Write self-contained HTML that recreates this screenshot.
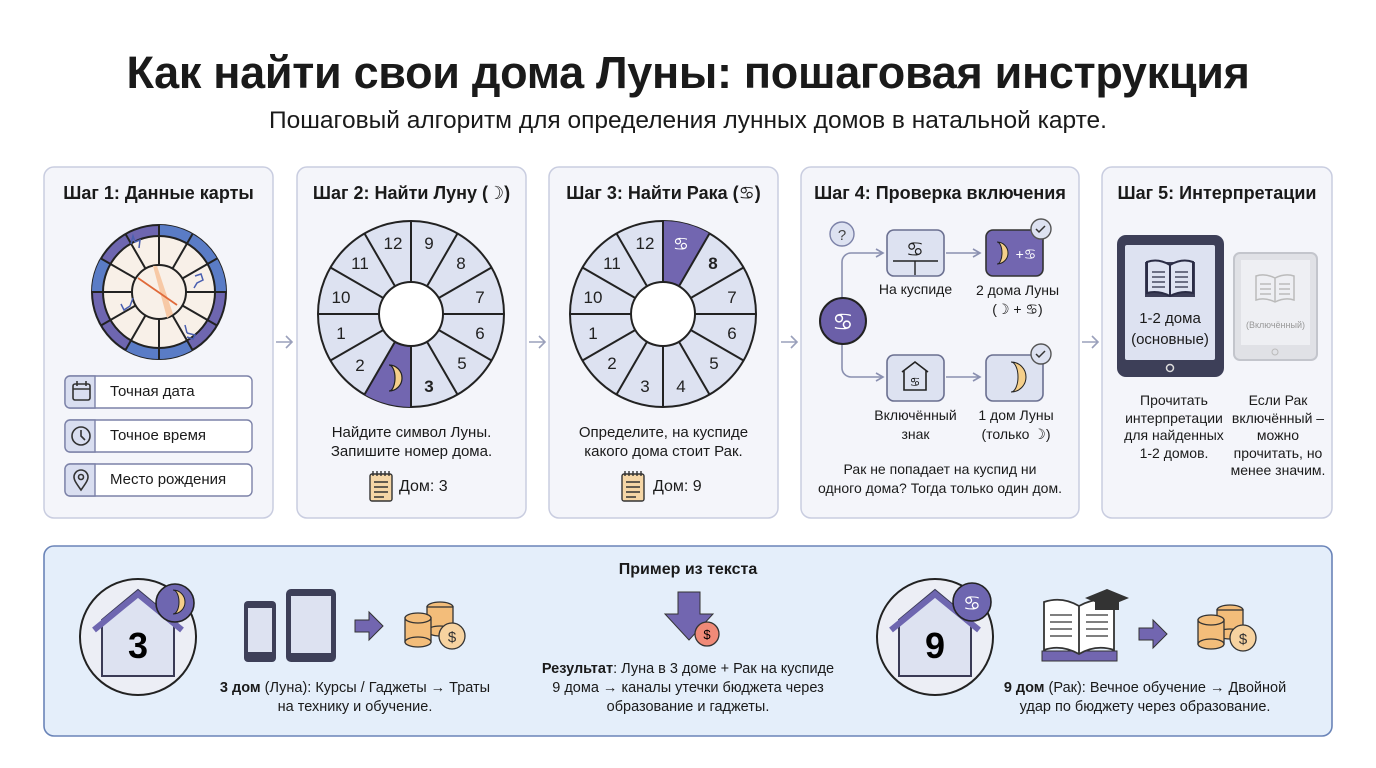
<!DOCTYPE html>
<html><head><meta charset="utf-8">
<style>
body{margin:0;width:1376px;height:768px;background:#fff;font-family:"Liberation Sans","DejaVu Sans",sans-serif;overflow:hidden;position:relative;color:#1a1a1a}
.t{position:absolute;white-space:nowrap}
.c{text-align:center}
</style></head><body>
<svg width="1376" height="768" style="position:absolute;left:0;top:0" font-family="Liberation Sans, DejaVu Sans, sans-serif">
<defs>
<marker id="ar" markerWidth="10" markerHeight="10" refX="8" refY="5" orient="auto" markerUnits="userSpaceOnUse"><path d="M1,1 L8,5 L1,9" fill="none" stroke="#8a90b0" stroke-width="1.6"/></marker>
</defs>
<g fill="#f4f5fa" stroke="#c9cde0" stroke-width="1.5">
<rect x="44" y="167" width="229" height="351" rx="10"/>
<rect x="297" y="167" width="229" height="351" rx="10"/>
<rect x="549" y="167" width="229" height="351" rx="10"/>
<rect x="801" y="167" width="278" height="351" rx="10"/>
<rect x="1102" y="167" width="230" height="351" rx="10"/>
</g>
<rect x="44" y="546" width="1288" height="190" rx="10" fill="#e4eefa" stroke="#6a84b8" stroke-width="1.6"/>
<g stroke="#9aa0bb" stroke-width="1.6" fill="none">
<path d="M276,342 H292 M286,336 L292,342 L286,348"/>
<path d="M529,342 H545 M539,336 L545,342 L539,348"/>
<path d="M781,342 H797 M791,336 L797,342 L791,348"/>
<path d="M1082,342 H1098 M1092,336 L1098,342 L1092,348"/>
</g>

<!-- step1 chart -->
<g transform="translate(159,292)">
<circle r="67" fill="#6e66b0" stroke="#222" stroke-width="2"/>
<path d="M0,-67 A67,67 0 0 1 33.5,-58 L28,-48.5 A56,56 0 0 0 0,-56Z M58,-33.5 A67,67 0 0 1 67,0 L56,0 A56 56 0 0 0 48.5,-28Z M0,67 A67 67 0 0 1 -33.5,58 L-28,48.5 A56 56 0 0 0 0,56Z M-67,0 A67 67 0 0 1 -58,-33.5 L-48.5,-28 A56 56 0 0 0 -56,0Z M33.5,58 A67 67 0 0 1 0,67 L0,56 A56 56 0 0 0 28,48.5Z M33.5,-58 A67 67 0 0 1 58,-33.5 L48.5,-28 A56 56 0 0 0 28,-48.5Z" fill="#5a7cc6"/>
<circle r="56" fill="#f8f0e8" stroke="#222" stroke-width="2"/>
<g stroke="#222" stroke-width="2">
<line x1="0" y1="-27" x2="0" y2="-67"/><line x1="0" y1="-27" x2="0" y2="-67" transform="rotate(30)"/><line x1="0" y1="-27" x2="0" y2="-67" transform="rotate(60)"/><line x1="0" y1="-27" x2="0" y2="-67" transform="rotate(90)"/><line x1="0" y1="-27" x2="0" y2="-67" transform="rotate(120)"/><line x1="0" y1="-27" x2="0" y2="-67" transform="rotate(150)"/><line x1="0" y1="-27" x2="0" y2="-67" transform="rotate(180)"/><line x1="0" y1="-27" x2="0" y2="-67" transform="rotate(210)"/><line x1="0" y1="-27" x2="0" y2="-67" transform="rotate(240)"/><line x1="0" y1="-27" x2="0" y2="-67" transform="rotate(270)"/><line x1="0" y1="-27" x2="0" y2="-67" transform="rotate(300)"/><line x1="0" y1="-27" x2="0" y2="-67" transform="rotate(330)"/>
</g>
<circle r="27" fill="#f8f0e8" stroke="#222" stroke-width="2"/>
<path d="M-6,-26 L-2,-26 L14,22 L8,26Z" fill="#f7c9a6"/>
<line x1="-21" y1="-14" x2="18" y2="13" stroke="#e06a3a" stroke-width="1.8"/>
<g stroke="#4a5fb0" stroke-width="1.5" fill="none">
<path d="M-28,-48 l2,-8 l2,6 l5,-2 l-1,8"/><path d="M36,-16 l6,-2 l2,6 l-6,3 l-3,5"/><path d="M-38,12 l3,6 l6,-4 l3,-8"/><path d="M28,41 l-2,-8 m2,8 l8,2 l-2,4 l-6,-2"/>
</g>
</g>
<g stroke="#7c82a8" stroke-width="1.4">
<rect x="65" y="376" width="187" height="32" rx="5" fill="#fff"/>
<rect x="65" y="420" width="187" height="32" rx="5" fill="#fff"/>
<rect x="65" y="464" width="187" height="32" rx="5" fill="#fff"/>
<path d="M70,376 h25 v32 h-25 a5 5 0 0 1 -5 -5 v-22 a5 5 0 0 1 5 -5Z M70,420 h25 v32 h-25 a5 5 0 0 1 -5 -5 v-22 a5 5 0 0 1 5 -5Z M70,464 h25 v32 h-25 a5 5 0 0 1 -5 -5 v-22 a5 5 0 0 1 5 -5Z" fill="#d9def0"/>
</g>
<g stroke="#333" stroke-width="1.6" fill="none">
<rect x="73" y="384" width="17" height="16" rx="2"/><line x1="73" y1="389" x2="90" y2="389"/><line x1="77" y1="381" x2="77" y2="386"/><line x1="86" y1="381" x2="86" y2="386"/>
<circle cx="81" cy="436" r="9"/><path d="M81,430 v6 l4,4"/>
<path d="M81,490 c-5,-7 -7,-10 -7,-13 a7 7 0 0 1 14 0 c0,3 -2,6 -7,13Z"/><circle cx="81" cy="477" r="2.5"/>
</g>

<!-- step2 wheel -->
<g transform="translate(411,314)">
<circle r="93" fill="#dde2f1" stroke="#222" stroke-width="2"/>
<path d="M0,93 A93,93 0 0 1 -46.5,80.5 L-16,27.7 A32,32 0 0 0 0,32Z" fill="#7266b0"/>
<g stroke="#222" stroke-width="2">
<line y1="-32" y2="-93"/><line y1="-32" y2="-93" transform="rotate(30)"/><line y1="-32" y2="-93" transform="rotate(60)"/><line y1="-32" y2="-93" transform="rotate(90)"/><line y1="-32" y2="-93" transform="rotate(120)"/><line y1="-32" y2="-93" transform="rotate(150)"/><line y1="-32" y2="-93" transform="rotate(180)"/><line y1="-32" y2="-93" transform="rotate(210)"/><line y1="-32" y2="-93" transform="rotate(240)"/><line y1="-32" y2="-93" transform="rotate(270)"/><line y1="-32" y2="-93" transform="rotate(300)"/><line y1="-32" y2="-93" transform="rotate(330)"/>
</g>
<circle r="32" fill="#fff" stroke="#222" stroke-width="2"/>
<g font-size="17" text-anchor="middle" fill="#222">
<text x="18" y="-65">9</text><text x="50" y="-45">8</text><text x="69" y="-11">7</text><text x="69" y="25">6</text><text x="51" y="55">5</text><text x="18" y="78" font-weight="bold">3</text><text x="-51" y="57">2</text><text x="-70" y="25">1</text><text x="-70" y="-11">10</text><text x="-51" y="-45">11</text><text x="-18" y="-65">12</text>
</g>
<path d="M-22,51 A13,13 0 0 1 -22,77 A6,13 0 0 0 -22,51Z" fill="#f5cf8a" stroke="#222" stroke-width="1.2"/>
</g>

<!-- step3 wheel -->
<g transform="translate(663,314)">
<circle r="93" fill="#dde2f1" stroke="#222" stroke-width="2"/>
<path d="M0,-93 A93 93 0 0 1 46.5,-80.5 L16,-27.7 A32 32 0 0 0 0,-32Z" fill="#7266b0"/>
<g stroke="#222" stroke-width="2">
<line y1="-32" y2="-93"/><line y1="-32" y2="-93" transform="rotate(30)"/><line y1="-32" y2="-93" transform="rotate(60)"/><line y1="-32" y2="-93" transform="rotate(90)"/><line y1="-32" y2="-93" transform="rotate(120)"/><line y1="-32" y2="-93" transform="rotate(150)"/><line y1="-32" y2="-93" transform="rotate(180)"/><line y1="-32" y2="-93" transform="rotate(210)"/><line y1="-32" y2="-93" transform="rotate(240)"/><line y1="-32" y2="-93" transform="rotate(270)"/><line y1="-32" y2="-93" transform="rotate(300)"/><line y1="-32" y2="-93" transform="rotate(330)"/>
</g>
<circle r="32" fill="#fff" stroke="#222" stroke-width="2"/>
<g font-size="17" text-anchor="middle" fill="#222">
<text x="18" y="-64" fill="#fff" font-size="18">♋</text><text x="50" y="-45" font-weight="bold">8</text><text x="69" y="-11">7</text><text x="69" y="25">6</text><text x="51" y="55">5</text><text x="18" y="78">4</text><text x="-18" y="78">3</text><text x="-51" y="55">2</text><text x="-70" y="25">1</text><text x="-70" y="-11">10</text><text x="-51" y="-45">11</text><text x="-18" y="-65">12</text>
</g>
</g>

<g stroke="#333" stroke-width="1.4">
<rect x="370" y="474" width="22" height="27" rx="2" fill="#f5d6a6"/>
<rect x="622" y="474" width="22" height="27" rx="2" fill="#f5d6a6"/>
<path d="M374,482h14M374,487h14M374,492h14M374,497h10M626,482h14M626,487h14M626,492h14M626,497h10M373,471v5M377,471v5M381,471v5M385,471v5M389,471v5M625,471v5M629,471v5M633,471v5M637,471v5M641,471v5" fill="none"/>
</g>

<!-- step4 -->
<circle cx="842" cy="234" r="12" fill="#dde2f1" stroke="#7c82a8" stroke-width="1.4"/>
<text x="842" y="240" font-size="15" text-anchor="middle" fill="#444">?</text>
<g stroke="#8a90b0" stroke-width="1.6" fill="none">
<path d="M842,300 V262 a9 9 0 0 1 9 -9 H883" marker-end="url(#ar)"/>
<path d="M842,342 V368 a9 9 0 0 0 9 9 H883" marker-end="url(#ar)"/>
<path d="M946,253 H980" marker-end="url(#ar)"/>
<path d="M946,377 H980" marker-end="url(#ar)"/>
</g>
<circle cx="843" cy="321" r="23" fill="#6b5fa8" stroke="#222" stroke-width="2"/>
<text x="843" y="330" font-size="24" text-anchor="middle" fill="#fff">♋</text>
<rect x="887" y="230" width="57" height="46" rx="7" fill="#dde2f1" stroke="#6a6f90" stroke-width="1.6"/>
<text x="915" y="256" font-size="20" text-anchor="middle" fill="#222">♋</text>
<path d="M893,261 H938 M915,261 V275" stroke="#222" stroke-width="1.4"/>
<rect x="986" y="230" width="57" height="46" rx="7" fill="#7266b0" stroke="#333" stroke-width="1.6"/>
<path d="M997,242 A11,11 0 0 1 997,264 A5,11 0 0 0 997,242Z" fill="#f5cf8a" stroke="#222"/>
<text x="1026" y="259" font-size="14" text-anchor="middle" fill="#fff">+♋</text>
<circle cx="1041" cy="229" r="10" fill="#dde2f1" stroke="#555" stroke-width="1.4"/>
<path d="M1036,229 l3,3 l6,-6" stroke="#333" stroke-width="1.5" fill="none"/>
<rect x="887" y="355" width="57" height="46" rx="7" fill="#dde2f1" stroke="#6a6f90" stroke-width="1.6"/>
<path d="M902,372 L915,362 L928,372 M904,370 V390 H926 V370" fill="none" stroke="#222" stroke-width="1.6"/>
<text x="915" y="386" font-size="12" text-anchor="middle">♋</text>
<rect x="986" y="355" width="57" height="46" rx="7" fill="#dde2f1" stroke="#6a6f90" stroke-width="1.6"/>
<path d="M1011,362 A15,15 0 0 1 1011,392 A7,15 0 0 0 1011,362Z" fill="#f5cf8a" stroke="#222"/>
<circle cx="1041" cy="354" r="10" fill="#dde2f1" stroke="#555" stroke-width="1.4"/>
<path d="M1036,354 l3,3 l6,-6" stroke="#333" stroke-width="1.5" fill="none"/>

<!-- step5 tablets -->
<rect x="1117" y="235" width="107" height="142" rx="9" fill="#3d3f58"/>
<rect x="1125" y="245" width="90" height="115" rx="2" fill="#dde2f1"/>
<circle cx="1170" cy="368" r="3.5" fill="none" stroke="#ddd" stroke-width="1.5"/>
<rect x="1145" y="262" width="50" height="35" fill="#3d3f58"/>
<g stroke="#2a2c45" stroke-width="2" fill="#dde2f1"><path d="M1147,262 q11,-4 23,3 q12,-7 23,-3 v31 q-11,-3 -23,3 q-12,-6 -23,-3Z M1170,265 v31"/></g>
<path d="M1152,272h13M1152,277h13M1152,282h13M1152,287h13M1175,272h13M1175,277h13M1175,282h13M1175,287h13" stroke="#2a2c45" stroke-width="1.3"/>
<rect x="1234" y="253" width="83" height="107" rx="6" fill="#e0e1e6" stroke="#c3c5cc" stroke-width="2"/>
<rect x="1241" y="260" width="69" height="85" fill="#eeeff3"/>
<circle cx="1275" cy="352" r="3" fill="none" stroke="#bbb"/>
<path d="M1256,276 q9,-3 19,2 q10,-5 19,-2 v24 q-9,-3 -19,2 q-10,-5 -19,-2Z M1275,278 v24 M1260,284h11M1260,289h11M1260,294h11M1279,284h11M1279,289h11M1279,294h11" fill="none" stroke="#bbb" stroke-width="1.5"/>

<!-- bottom -->
<circle cx="138" cy="637" r="58" fill="#eceef5" stroke="#222" stroke-width="2"/>
<path d="M102,620 V676 H174 V620 L138,590Z" fill="#dde2f1" stroke="#3a3a55" stroke-width="2"/>
<path d="M94,630 L138,594 L182,630" fill="none" stroke="#6e66b0" stroke-width="6" stroke-linejoin="miter"/>
<text x="138" y="658" font-size="36" font-weight="bold" text-anchor="middle">3</text>
<circle cx="175" cy="603" r="19" fill="#6e66b0" stroke="#222" stroke-width="1.6"/>
<path d="M173,590 A12,12 0 0 1 173,614 A6,12 0 0 0 173,590Z" fill="#f5cf8a" stroke="#222"/>
<rect x="244" y="601" width="32" height="61" rx="4" fill="#3d3f58"/><rect x="248" y="608" width="24" height="44" fill="#dde2f1"/>
<rect x="286" y="589" width="50" height="73" rx="5" fill="#3d3f58"/><rect x="291" y="596" width="40" height="57" fill="#dde2f1"/>
<path d="M355,620 h14 v-8 l14,14 l-14,14 v-8 h-14Z" fill="#7266b0" stroke="#333" stroke-width="1"/>
<g stroke="#333" stroke-width="1.3" fill="#f3bd7a">
<ellipse cx="440" cy="607" rx="13" ry="5"/><rect x="427" y="607" width="26" height="24"/><ellipse cx="440" cy="631" rx="13" ry="5"/>
<rect x="405" y="618" width="26" height="24"/><ellipse cx="418" cy="642" rx="13" ry="5"/><ellipse cx="418" cy="618" rx="13" ry="5"/>
<circle cx="452" cy="636" r="13" fill="#f7d3a0"/>
</g>
<text x="452" y="642" font-size="15" text-anchor="middle" fill="#333">$</text>
<path d="M678,592 h22 v22 h13 l-24,26 l-24,-26 h13Z" fill="#7266b0" stroke="#333" stroke-width="1"/>
<circle cx="707" cy="634" r="12" fill="#f08a78" stroke="#333" stroke-width="1.3"/>
<text x="707" y="639" font-size="13" text-anchor="middle">$</text>
<circle cx="935" cy="637" r="58" fill="#eceef5" stroke="#222" stroke-width="2"/>
<path d="M899,620 V676 H971 V620 L935,590Z" fill="#dde2f1" stroke="#3a3a55" stroke-width="2"/>
<path d="M891,630 L935,594 L979,630" fill="none" stroke="#6e66b0" stroke-width="6"/>
<text x="935" y="658" font-size="36" font-weight="bold" text-anchor="middle">9</text>
<circle cx="972" cy="602" r="19" fill="#6e66b0" stroke="#222" stroke-width="1.6"/>
<text x="972" y="610" font-size="20" text-anchor="middle" fill="#fff">♋</text>
<rect x="1042" y="651" width="75" height="10" fill="#7266b0" stroke="#333"/>
<path d="M1044,602 q18,-6 35,4 q18,-10 35,-4 v48 q-18,-6 -35,4 q-18,-10 -35,-4Z M1079,606 v48" fill="#fff" stroke="#333" stroke-width="1.8"/>
<path d="M1050,615h22M1050,622h22M1050,629h22M1050,636h22M1086,615h22M1086,622h22M1086,629h22M1086,636h22" stroke="#333" stroke-width="1.3"/>
<path d="M1085,598 l22,-9 l22,9 l-22,9Z" fill="#333"/><path d="M1095,602 v8 h24 v-8" fill="#333"/>
<path d="M1139,628 h14 v-8 l14,14 l-14,14 v-8 h-14Z" fill="#7266b0" stroke="#333" stroke-width="1"/>
<g stroke="#333" stroke-width="1.3" fill="#f3bd7a">
<ellipse cx="1230" cy="610" rx="13" ry="5"/><rect x="1217" y="610" width="26" height="24"/><ellipse cx="1230" cy="634" rx="13" ry="5"/>
<rect x="1198" y="620" width="26" height="24"/><ellipse cx="1211" cy="644" rx="13" ry="5"/><ellipse cx="1211" cy="620" rx="13" ry="5"/>
<circle cx="1243" cy="638" r="13" fill="#f7d3a0"/>
</g>
<text x="1243" y="644" font-size="15" text-anchor="middle" fill="#333">$</text>
</svg>

<div class="t c" style="left:0;width:1376px;top:47px;font-size:45px;font-weight:bold;letter-spacing:-0.3px">Как найти свои дома Луны: пошаговая инструкция</div>
<div class="t c" style="left:0;width:1376px;top:107px;font-size:24.5px">Пошаговый алгоритм для определения лунных домов в натальной карте.</div>

<div class="t c" style="left:44px;width:229px;top:183px;font-size:18px;font-weight:bold">Шаг 1: Данные карты</div>
<div class="t c" style="left:297px;width:229px;top:183px;font-size:18px;font-weight:bold">Шаг 2: Найти Луну (☽)</div>
<div class="t c" style="left:549px;width:229px;top:183px;font-size:18px;font-weight:bold">Шаг 3: Найти Рака (♋)</div>
<div class="t c" style="left:801px;width:278px;top:183px;font-size:18px;font-weight:bold">Шаг 4: Проверка включения</div>
<div class="t c" style="left:1102px;width:230px;top:183px;font-size:18px;font-weight:bold">Шаг 5: Интерпретации</div>

<div class="t" style="left:110px;top:383px;font-size:15px">Точная дата</div>
<div class="t" style="left:110px;top:427px;font-size:15px">Точное время</div>
<div class="t" style="left:110px;top:471px;font-size:15px">Место рождения</div>

<div class="t c" style="left:297px;width:229px;top:423px;font-size:15px;line-height:19px">Найдите символ Луны.<br>Запишите номер дома.</div>
<div class="t" style="left:399px;top:478px;font-size:16px">Дом: 3</div>
<div class="t c" style="left:549px;width:229px;top:423px;font-size:15px;line-height:19px">Определите, на куспиде<br>какого дома стоит Рак.</div>
<div class="t" style="left:653px;top:478px;font-size:16px">Дом: 9</div>

<div class="t c" style="left:868px;width:95px;top:281px;font-size:14px">На куспиде</div>
<div class="t c" style="left:970px;width:95px;top:281px;font-size:14px;line-height:19px">2 дома Луны<br>(☽ + ♋)</div>
<div class="t c" style="left:858px;width:115px;top:406px;font-size:14px;line-height:19px">Включённый<br>знак</div>
<div class="t c" style="left:966px;width:100px;top:406px;font-size:14px;line-height:19px">1 дом Луны<br>(только ☽)</div>
<div class="t c" style="left:801px;width:278px;top:460px;font-size:14px;line-height:19px">Рак не попадает на куспид ни<br>одного дома? Тогда только один дом.</div>

<div class="t c" style="left:1125px;width:90px;top:308px;font-size:15px;line-height:21px">1-2 дома<br>(основные)</div>
<div class="t c" style="left:1241px;width:69px;top:320px;font-size:9px;color:#999">(Включённый)</div>
<div class="t c" style="left:1112px;width:124px;top:392px;font-size:14px;line-height:17.5px">Прочитать<br>интерпретации<br>для найденных<br>1-2 домов.</div>
<div class="t c" style="left:1226px;width:104px;top:392px;font-size:14px;line-height:17.5px">Если Рак<br>включённый –<br>можно<br>прочитать, но<br>менее значим.</div>

<div class="t c" style="left:488px;width:400px;top:561px;font-size:16px;font-weight:bold">Пример из текста</div>
<div class="t c" style="left:190px;width:330px;top:679px;font-size:14.5px;line-height:19px"><b>3 дом</b> (Луна): Курсы / Гаджеты → Траты<br>на технику и обучение.</div>
<div class="t c" style="left:508px;width:360px;top:660px;font-size:14.5px;line-height:19px"><b>Результат</b>: Луна в 3 доме + Рак на куспиде<br>9 дома → каналы утечки бюджета через<br>образование и гаджеты.</div>
<div class="t c" style="left:980px;width:330px;top:679px;font-size:14.5px;line-height:19px"><b>9 дом</b> (Рак): Вечное обучение → Двойной<br>удар по бюджету через образование.</div>
</body></html>
